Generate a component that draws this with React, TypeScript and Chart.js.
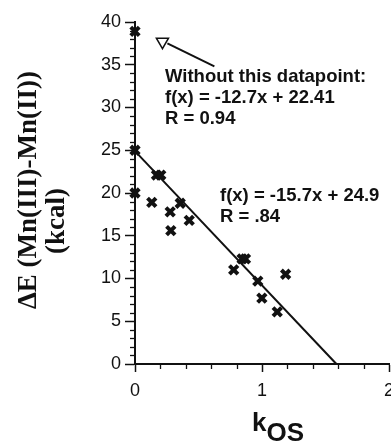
import React, { useEffect, useRef } from "react";
import { Chart, registerables } from "chart.js";

Chart.register(...registerables);

// ---- data ----
const kOS = [0, 0, 0, 0.132, 0.169, 0.203, 0.277, 0.282, 0.356, 0.427, 0.777, 0.843, 0.870, 0.967, 0.999, 1.12, 1.186];
const deltaE = [38.9, 25.0, 20.0, 18.9, 22.1, 22.1, 17.8, 15.6, 18.8, 16.8, 11.0, 12.3, 12.3, 9.7, 7.7, 6.1, 10.5];
const fitLineX = [0, 1.586];
const fitLineY = [24.9, 0];
const excludedMarkerX = [0.216];
const excludedMarkerY = [37.7];
const arrowX = [0.255, 0.625];
const arrowY = [37.5, 34.8];
const xTickValues = [0, 1, 2];
const yTickValues = [0, 5, 10, 15, 20, 25, 30, 35, 40];
const yTitleLines = ["\u0394E (Mn(III)-Mn(II))", "(kcal)"];
const xTitleMain = "k";
const xTitleSub = "OS";
const noteExcluded = ["Without this datapoint:", "f(x) = -12.7x + 22.41", "R = 0.94"];
const noteFit = ["f(x) = -15.7x + 24.9", "R = .84"];

const INK = "#111";
const SANS = "'Liberation Sans', Arial, sans-serif";
const SERIF = "'Liberation Serif', 'Times New Roman', serif";

const zeroPad = () => ({ left: 0, top: 0, right: 0, bottom: 0 });

const decorPlugin = {
  id: "decor",
  afterDraw(chart: any) {
    const ctx = chart.ctx;
    const xs = chart.scales.x;
    const ys = chart.scales.y;
    const { left, bottom } = chart.chartArea;
    ctx.save();
    ctx.strokeStyle = INK;
    ctx.lineWidth = 1.3;
    // minor ticks on y (every 1)
    for (let v = 0; v <= 40; v += 1) {
      if (v % 5 === 0) continue;
      const py = Math.round(ys.getPixelForValue(v)) + 0.5;
      ctx.beginPath();
      ctx.moveTo(left - 5, py);
      ctx.lineTo(left, py);
      ctx.stroke();
    }
    // minor ticks on x (every 0.2)
    for (let i = 0; i <= 10; i++) {
      if (i % 5 === 0) continue;
      const px = Math.round(xs.getPixelForValue(i * 0.2)) + 0.5;
      ctx.beginPath();
      ctx.moveTo(px, bottom);
      ctx.lineTo(px, bottom + 5);
      ctx.stroke();
    }
    ctx.fillStyle = INK;
    // annotations
    ctx.font = `bold 18.5px ${SANS}`;
    ctx.textAlign = "left";
    ctx.textBaseline = "alphabetic";
    const n1 = [82, 103, 124];
    noteExcluded.forEach((t, i) => ctx.fillText(t, 165, n1[i]));
    const n2 = [201, 222];
    noteFit.forEach((t, i) => ctx.fillText(t, 220, n2[i]));
    // y title
    ctx.font = `bold 27px ${SERIF}`;
    ctx.textAlign = "center";
    ctx.textBaseline = "middle";
    const yPos = [
      [29, 190],
      [57, 221],
    ];
    yTitleLines.forEach((t, i) => {
      ctx.save();
      ctx.translate(yPos[i][0], yPos[i][1]);
      ctx.rotate(-Math.PI / 2);
      ctx.fillText(t, 0, 0);
      ctx.restore();
    });
    // x title with subscript
    ctx.textAlign = "left";
    ctx.textBaseline = "alphabetic";
    ctx.font = `bold 26px ${SANS}`;
    ctx.fillText(xTitleMain, 252, 431);
    const kw = ctx.measureText(xTitleMain).width;
    ctx.fillText(xTitleSub, 252 + kw, 441);
    ctx.restore();
  },
};

export default function App() {
  const ref = useRef<HTMLCanvasElement | null>(null);
  useEffect(() => {
    if (!ref.current) return;
    const pts = (xa: number[], ya: number[]) => xa.map((x, i) => ({ x, y: ya[i] }));
    const chart = new Chart(ref.current, {
      type: "scatter",
      data: {
        datasets: [
          {
            label: "fit",
            data: pts(fitLineX, fitLineY),
            showLine: true,
            borderColor: INK,
            borderWidth: 2,
            pointRadius: 0,
            clip: false,
          },
          {
            label: "arrow",
            data: pts(arrowX, arrowY),
            showLine: true,
            borderColor: INK,
            borderWidth: 2,
            pointRadius: 0,
            clip: false,
          },
          {
            label: "data",
            data: pts(kOS, deltaE),
            pointStyle: "crossRot",
            pointRadius: 6,
            borderColor: INK,
            borderWidth: 4,
            clip: false,
          },
          {
            label: "marker",
            data: pts(excludedMarkerX, excludedMarkerY),
            pointStyle: "triangle",
            rotation: 180,
            pointRadius: 7,
            borderWidth: 1.5,
            borderColor: INK,
            backgroundColor: "#fff",
            clip: false,
          },
        ] as any,
      },
      options: {
        animation: false,
        responsive: false,
        devicePixelRatio: 1,
        events: [],
        layout: { autoPadding: false, padding: { top: 22, right: 2, bottom: 0, left: 0 } },
        plugins: { legend: { display: false }, tooltip: { enabled: false } },
        scales: {
          x: {
            type: "linear",
            min: 0,
            max: 2,
            afterBuildTicks: (s: any) => {
              s.ticks = xTickValues.map((v) => ({ value: v }));
            },
            afterFit: (s: any) => {
              s.height = 84;
              s.paddingLeft = 0;
              s.paddingRight = 0;
              s.getPadding = zeroPad;
            },
            ticks: {
              color: INK,
              padding: 8,
              maxRotation: 0,
              font: { family: SANS, size: 18 },
            },
            grid: { drawOnChartArea: false, drawTicks: true, tickLength: 8, tickWidth: 1.5, tickColor: INK },
            border: { display: true, color: INK, width: 2 },
          },
          y: {
            type: "linear",
            min: 0,
            max: 40,
            afterBuildTicks: (s: any) => {
              s.ticks = yTickValues.map((v) => ({ value: v }));
            },
            afterFit: (s: any) => {
              s.width = 135;
              s.paddingTop = 0;
              s.paddingBottom = 0;
              s.getPadding = zeroPad;
            },
            ticks: {
              color: INK,
              padding: 4,
              font: { family: SANS, size: 18 },
            },
            grid: { drawOnChartArea: false, drawTicks: true, tickLength: 10, tickWidth: 1.5, tickColor: INK },
            border: { display: true, color: INK, width: 2 },
          },
        },
      },
      plugins: [decorPlugin],
    } as any);
    return () => chart.destroy();
  }, []);
  return (
    <div style={{ position: "absolute", left: 0, top: 0, width: 391, height: 448, background: "#fff" }}>
      <canvas ref={ref} width={391} height={448} style={{ display: "block" }} />
    </div>
  );
}
